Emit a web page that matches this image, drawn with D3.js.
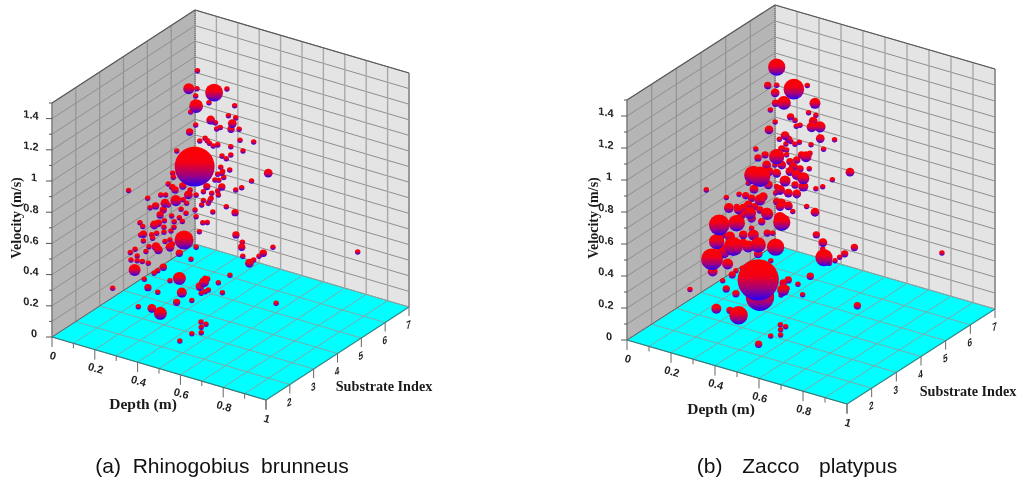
<!DOCTYPE html>
<html>
<head>
<meta charset="utf-8">
<script src="https://cdn.jsdelivr.net/npm/d3@7"></script>
<style>
  html, body { margin: 0; padding: 0; background: #fff; }
  svg { display: block; filter: blur(0.35px); }
</style>
</head>
<body>
<div id="chart"></div>
<script>
// [depth, velocity, count] grouped by substrate index
const rhinoS5 = [
  [.234,1.403,1],[.232,1.287,1],[.312,1.295,14],[.372,1.343,1],[.226,1.239,1],[.228,1.174,8],[.288,1.221,1],[.408,1.249,1],
  [.379,1.174,1],[.413,1.174,1],[.296,1.113,3],[.318,1.105,1],[.397,1.131,3],[.391,1.092,2],[.324,1.067,1],[.341,1.083,1],
  [.429,1.108,1],[.226,1.053,1],[.245,.958,1],[.270,.986,1],[.280,.974,1],[.290,.962,1],[.308,.952,1],[.329,.967,1],
  [.433,1.039,1],[.497,1.054,1],[.390,.980,1],[.447,.976,1],[.390,.927,1],[.349,.904,1],[.369,.895,1],[.221,.784,75],
  [.565,.881,3],[.385,.829,1],[.343,.829,1],[.352,.805,1],[.329,.779,1],[.357,.769,1],[.334,.742,1],[.348,.705,2],
  [.487,.799,1],[.441,.738,1],[.413,.712,1],[.329,.672,1],[.332,.647,1],[.301,.646,1],[.278,.679,2],[.262,.640,1],
  [.298,.612,1],[.369,.587,1],[.285,.575,1],[.254,.552,1],[.262,.583,1],[.410,.565,2],[.306,.528,1],[.228,.466,1],
  [.259,.440,1],[.280,.449,1],[.243,.376,1],[.414,.424,2],[.444,.389,1],[.441,.356,2],[.587,.415,1],[.542,.358,2],
  [.522,.331,1],[.497,.297,1],[.477,.268,3],[.446,.301,1],[.386,.154,1],[.270,.088,1],[.204,.183,1],[.228,.270,1],
  [.983,.545,1],[.348,.793,1],[.316,.737,1],[.293,.599,1],[.228,.605,1],[.223,.507,1]
]
const rhinoS4 = [
  [.305,1.417,5],[.314,1.271,1],[.309,1.141,2],[.249,.995,1],[.230,.844,1],[.233,.820,1],[.209,.767,1],[.230,.758,1],
  [.241,.742,2],[.277,.782,2],[.303,.735,3],[.311,.770,1],[.279,.694,1],[.024,.650,1],[.113,.637,1],[.174,.683,1],
  [.197,.692,1],[.225,.753,1],[.245,.675,5],[.194,.638,3],[.209,.633,1],[.150,.603,2],[.124,.581,1],[.295,.679,1],
  [.269,.629,1],[.186,.592,2],[.171,.553,2],[.225,.569,1],[.292,.613,1],[.261,.572,1],[.275,.553,1],[.237,.537,1],
  [.077,.466,1],[.090,.446,1],[.144,.478,3],[.163,.497,2],[.191,.525,1],[.189,.482,1],[.093,.398,2],[.080,.388,1],
  [.132,.410,1],[.155,.429,1],[.189,.450,1],[.222,.471,1],[.236,.501,1],[.136,.390,1],[.093,.355,1],[.194,.392,1],
  [.217,.412,1],[.228,.390,1],[.217,.365,3],[.152,.342,3],[.163,.326,3],[.119,.329,1],[.054,.286,1],[.032,.256,1],
  [.105,.292,1],[.064,.247,1],[.035,.210,1],[.064,.217,1],[.088,.221,1],[.116,.222,1],[.052,.153,6],[.186,.224,2],
  [.160,.192,1],[.143,.168,1],[.283,.438,16],[.261,.344,2]
]
const rhinoS2 = [
  [.936,.495,1],[.585,.233,1],[.608,.228,1],[.586,.200,1],[.586,.165,1],[.542,.140,1],[.486,.071,1],[.599,.494,4],
  [.580,.458,3],[.616,.521,1],[.666,.518,1],[.619,.452,1],[.604,.435,1],[.586,.418,1],[.685,.461,1],[.542,.354,1],
  [.471,.313,2],[.495,.385,4],[.484,.472,7],[.440,.439,1],[.383,.342,1],[.337,.353,2],[.320,.400,1],[.292,.213,1],
  [.355,.228,3],[.395,.212,7],[.172,.283,1]
]
const zaccoS5 = [
  [.232,1.402,13],[.191,1.271,2],[.232,1.289,1],[.310,1.296,19],[.371,1.343,1],[.225,1.239,3],[.265,1.192,8],[.227,1.175,2],
  [.406,1.246,5],[.203,1.123,1],[.377,1.176,1],[.410,1.173,1],[.295,1.117,2],[.315,1.104,1],[.225,1.056,1],[.398,1.131,3],
  [.391,1.091,4],[.429,1.108,5],[.338,1.082,1],[.321,1.069,1],[.197,.996,3],[.430,1.035,3],[.495,1.053,1],[.270,.989,3],
  [.244,.957,1],[.285,.973,2],[.297,.963,1],[.315,.954,1],[.335,.974,1],[.388,.979,1],[.274,.938,1],[.445,.975,1],
  [.255,.900,2],[.277,.903,1],[.383,.925,1],[.232,.843,10],[.179,.833,2],[.277,.872,1],[.365,.896,5],[.345,.899,2],
  [.323,.859,2],[.292,.836,2],[.186,.773,3],[.224,.788,1],[.255,.800,3],[.307,.811,3],[.338,.809,2],[.380,.826,1],
  [.565,.879,3],[.198,.736,3],[.232,.739,3],[.292,.774,3],[.353,.756,6],[.323,.765,4],[.270,.706,5],[.485,.799,1],
  [.441,.739,1],[.410,.713,1],[.353,.704,4],[.315,.699,2],[.232,.656,1],[.194,.651,3],[.247,.641,4],[.323,.646,3],
  [.285,.636,3],[.227,.613,1],[.171,.569,3],[.368,.585,1],[.406,.565,3],[.232,.562,2],[.255,.561,3],[.285,.556,3],
  [.247,.537,3],[.305,.529,1],[.186,.471,5],[.247,.466,6],[.255,.442,13],[.189,.468,6],[.164,.409,2],[.189,.348,2],
  [.214,.357,1],[.227,.275,13],[.412,.426,2],[.442,.390,3],[.441,.350,1],[.447,.298,13],[.585,.416,2],[.541,.359,2],
  [.518,.329,1],[.497,.299,1],[.471,.273,1],[.205,.182,1],[.983,.541,1]
]
const zaccoS4 = [
  [.238,.830,15],[.268,.831,19],[.215,.769,1],[.241,.742,3],[.259,.945,2],[.249,.997,1],[.268,.686,5],[.024,.651,1],
  [.115,.639,1],[.173,.683,1],[.203,.687,2],[.230,.681,2],[.127,.579,4],[.162,.602,1],[.215,.633,3],[.192,.604,3],
  [.245,.635,2],[.268,.623,2],[.223,.586,6],[.185,.559,3],[.170,.584,3],[.230,.556,3],[.083,.456,19],[.162,.498,12],
  [.094,.402,4],[.238,.455,5],[.230,.494,1],[.192,.437,3],[.132,.402,4],[.071,.346,10],[.147,.346,16],[.101,.296,8],
  [.192,.385,3],[.215,.373,6],[.260,.401,10],[.050,.228,21],[.121,.227,5],[.053,.152,4],[.086,.238,1],[.260,.345,3],
  [.188,.227,1],[.159,.199,1],[.142,.167,2],[.260,.183,80],[.268,.081,37]
]
const zaccoS2 = [
  [.323,.401,1],[.174,.286,1],[.339,.356,2],[.383,.343,2],[.621,.525,2],[.598,.497,2],[.598,.453,6],[.588,.418,1],
  [.615,.471,1],[.665,.516,1],[.721,.588,2],[.686,.459,1],[.935,.489,2],[.294,.214,4],[.356,.229,2],[.395,.214,15],
  [.585,.231,1],[.609,.228,1],[.586,.199,1],[.586,.166,1],[.541,.143,1],[.486,.069,2]
]

const depthGrid = d3.range(0, 11).map(i => i / 10)
const depthLabels = [0, 0.2, 0.4, 0.6, 0.8, 1]
const substrateTicks = [1, 2, 3, 4, 5, 6, 7]
const substrateLabels = [2, 3, 4, 5, 6, 7]
const velocityGrid = d3.range(0, 16).map(i => i / 10)
const velocityLabels = [0, 0.2, 0.4, 0.6, 0.8, 1, 1.2, 1.4]

const svg = d3.select("#chart").append("svg")
  .attr("width", 1024)
  .attr("height", 482)

const defs = svg.append("defs")
const grad = defs.append("linearGradient")
  .attr("id", "sphere")
  .attr("x1", 0).attr("y1", 0).attr("x2", 0).attr("y2", 1)
grad.selectAll("stop")
  .data([[0, "#ff0000"], [0.4, "#f40014"], [0.72, "#a00080"], [1, "#2000f8"]])
  .enter().append("stop")
  .attr("offset", d => d[0])
  .attr("stop-color", d => d[1])

const rScale = d3.scaleSqrt().domain([0, 75]).range([0.5, 20])
const sans = "'Liberation Sans', Arial, sans-serif"
const serif = "'Liberation Serif', 'Times New Roman', serif"

function drawPanel(o, groups) {
  const xD = d3.scaleLinear().domain([0, 1]).range([0, o.dx])
  const yD = d3.scaleLinear().domain([0, 1]).range([0, o.dy])
  const xS = d3.scaleLinear().domain([1, 7]).range([0, o.sx])
  const yS = d3.scaleLinear().domain([1, 7]).range([0, -o.sy])
  const yV = d3.scaleLinear().domain([0, 1.5]).range([0, -o.h])
  const project = (d, s, v) => [o.x + xD(d) + xS(s), o.y + yD(d) + yS(s) + yV(v)]
  const line = d3.line()

  const g = svg.append("g")

  const poly = (pts, fill) => g.append("path")
    .attr("d", line(pts) + "Z")
    .attr("fill", fill)
  poly([project(0, 1, 0), project(0, 7, 0), project(0, 7, 1.5), project(0, 1, 1.5)], "#b5b5b5")
  poly([project(0, 7, 0), project(1, 7, 0), project(1, 7, 1.5), project(0, 7, 1.5)], "#e4e4e4")
  poly([project(0, 1, 0), project(1, 1, 0), project(1, 7, 0), project(0, 7, 0)], "#00ffff")

  const seg = (a, b, color, w, dash) => g.append("path")
    .attr("d", line([a, b]))
    .attr("fill", "none")
    .attr("stroke", color)
    .attr("stroke-width", w)
    .attr("stroke-dasharray", dash || null)

  // wall and floor grids
  velocityGrid.forEach(v => {
    seg(project(0, 1, v), project(0, 7, v), "#8f8f8f", 1)
    seg(project(0, 7, v), project(1, 7, v), "#8f8f8f", 1)
  })
  substrateTicks.forEach(s => {
    seg(project(0, s, 0), project(0, s, 1.5), "#939393", 1.2)
    seg(project(0, s, 0), project(1, s, 0), "#7fa9a9", 1)
  })
  depthGrid.forEach(d => {
    seg(project(d, 7, 0), project(d, 7, 1.5), "#a8a8a8", 1.4)
    seg(project(d, 1, 0), project(d, 7, 0), "#7fa9a9", 1)
  })

  // frame edges
  seg(project(0, 1, 1.5), project(0, 7, 1.5), "#5a5a5a", 1.2)
  seg(project(0, 7, 1.5), project(1, 7, 1.5), "#5a5a5a", 1.2)
  seg(project(1, 7, 1.5), project(1, 7, 0), "#777", 1)
  seg(project(0, 1, 1.5), project(0, 1, 0), "#777", 1)
  seg(project(0, 7, 0), project(0, 7, 1.5), "#666", 1, "1,1")
  seg(project(0, 1, 0), project(1, 1, 0), "#2f7f7f", 1.2)
  seg(project(1, 1, 0), project(1, 7, 0), "#2f8f8f", 1.2)
  seg(project(0, 1, 0), project(0, 7, 0), "#666", 1)

  // axis ticks
  velocityGrid.forEach((v, i) => {
    const p = project(0, 1, v)
    seg(p, [p[0] - (i % 2 ? 3 : 6), p[1]], "#555", 1)
  })
  depthGrid.forEach((d, i) => {
    const p = project(d, 1, 0)
    seg(p, [p[0], p[1] + (i % 2 ? 5 : 10)], "#666", 1)
  })
  substrateTicks.forEach(s => {
    const p = project(1, s, 0)
    seg(p, [p[0], p[1] + 9], "#666", 1)
  })

  const label = (txt, transform) => g.append("text")
    .attr("transform", transform)
    .attr("text-anchor", "middle")
    .attr("dominant-baseline", "central")
    .attr("font-family", sans)
    .attr("font-weight", "bold")
    .attr("font-size", 11)
    .attr("fill", "#222")
    .text(txt)

  velocityLabels.forEach(v => {
    const p = project(0, 1, v)
    label(v, `translate(${p[0] - (v === 0 || v === 1 ? 18 : 21)},${p[1] - 4}) skewY(10)`)
  })
  depthLabels.forEach(d => {
    const p = project(d, 1, 0)
    label(d, `translate(${p[0] + 1},${p[1] + 18.5}) rotate(16)`)
  })
  substrateLabels.forEach(s => {
    const p = project(1, s, 0)
    label(s, `translate(${p[0] - 0.5},${p[1] + 17.5}) skewY(-25) scale(0.75,1)`)
  })

  const title = (txt, x, y, size, rot) => g.append("text")
    .attr("transform", `translate(${x},${y}) rotate(${rot})`)
    .attr("text-anchor", "middle")
    .attr("dominant-baseline", "central")
    .attr("font-family", serif)
    .attr("font-weight", "bold")
    .attr("font-size", size)
    .attr("fill", "#1a1a1a")
    .text(txt)
  title("Velocity (m/s)", o.velX, o.velY, 14, -90)
  title("Depth (m)", o.depthX, o.depthY, 15.5, 0)
  title("Substrate Index", o.subX, o.subY, 14.2, 0)

  g.append("text")
    .attr("x", o.capX)
    .attr("y", 473)
    .attr("text-anchor", "middle")
    .attr("font-family", sans)
    .attr("font-size", 21)
    .attr("word-spacing", o.capGap)
    .attr("fill", "#111")
    .style("white-space", "pre")
    .text(o.caption)

  // spheres, smaller ones underneath
  const rows = groups.flatMap(([s, list]) => list.map(r => ({ d: r[0], s, v: r[1], n: r[2] })))
  rows.sort((a, b) => a.n - b.n)
  g.append("g").selectAll("circle")
    .data(rows)
    .enter().append("circle")
    .attr("cx", r => project(r.d, r.s, r.v)[0])
    .attr("cy", r => project(r.d, r.s, r.v)[1])
    .attr("r", r => rScale(r.n))
    .attr("fill", "url(#sphere)")
}

drawPanel({
  x: 52, y: 337, dx: 214, dy: 63, sx: 143, sy: 93, h: 234,
  velX: 16, velY: 218, depthX: 143, depthY: 403, subX: 384, subY: 386,
  capX: 222, capGap: 0, caption: "(a)  Rhinogobius  brunneus"
}, [[5, rhinoS5], [4, rhinoS4], [2, rhinoS2]])

drawPanel({
  x: 627, y: 340, dx: 220, dy: 64, sx: 148, sy: 95, h: 240,
  velX: 593, velY: 218, depthX: 721, depthY: 408, subX: 968, subY: 391,
  capX: 797, capGap: 4, caption: "(b)  Zacco  platypus"
}, [[5, zaccoS5], [4, zaccoS4], [2, zaccoS2]])
</script>
</body>
</html>
